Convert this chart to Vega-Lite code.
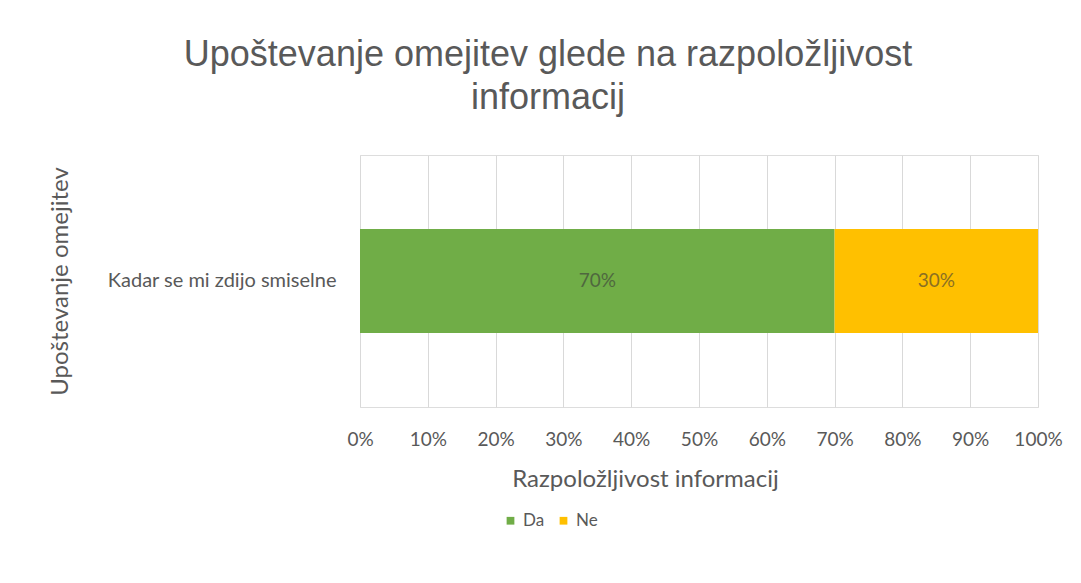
{
  "$schema": "https://vega.github.io/schema/vega-lite/v6.json",
  "width": 678,
  "height": 252,
  "autosize": {"type": "none"},
  "padding": {"left": 360, "top": 155, "right": 43, "bottom": 176},
  "background": "white",
  "title": {
    "text": ["Upoštevanje omejitev glede na razpoložljivost", "informacij"],
    "font": "Liberation Sans",
    "fontSize": 36,
    "fontWeight": "normal",
    "color": "#595959",
    "anchor": "middle",
    "frame": "group",
    "dx": -151,
    "lineHeight": 43,
    "offset": 38
  },
  "data": {
    "values": [
      {"kategorija": "Kadar se mi zdijo smiselne", "odgovor": "Da", "delez": 0.7, "red": 1},
      {"kategorija": "Kadar se mi zdijo smiselne", "odgovor": "Ne", "delez": 0.3, "red": 2}
    ]
  },
  "encoding": {
    "y": {
      "field": "kategorija",
      "type": "nominal",
      "scale": {"paddingInner": 0, "paddingOuter": 0.71},
      "axis": {
        "title": "Upoštevanje omejitev",
        "titleFont": "Lato",
        "titleFontSize": 24,
        "titleFontWeight": "normal",
        "titleColor": "#595959",
        "titleX": -300,
        "titleBaseline": "middle",
        "titleAlign": "center",
        "titleAngle": 270,
        "labelFont": "Lato",
        "labelFontSize": 20,
        "labelColor": "#595959",
        "labelPadding": 24,
        "labelLimit": 400,
        "ticks": false,
        "tickSize": 0,
        "domain": false,
        "grid": false
      }
    }
  },
  "layer": [
    {
      "mark": {"type": "bar"},
      "encoding": {
        "x": {
          "field": "delez",
          "type": "quantitative",
          "stack": "zero",
          "scale": {"domain": [0, 1], "nice": false},
          "axis": {
            "title": "Razpoložljivost informacij",
            "titleFont": "Lato",
            "titleFontSize": 24,
            "titleFontWeight": "normal",
            "titleColor": "#595959",
            "titleX": 285,
            "titleAlign": "center",
            "titlePadding": 18,
            "labelFont": "Lato",
            "labelFontSize": 19,
            "labelColor": "#595959",
            "labelPadding": 23,
            "labelFlush": false,
            "labelOverlap": false,
            "labelBound": false,
            "format": ".0%",
            "values": [0, 0.1, 0.2, 0.3, 0.4, 0.5, 0.6, 0.7, 0.8, 0.9, 1],
            "ticks": false,
            "tickSize": 0,
            "domain": false,
            "grid": true,
            "gridColor": "#D9D9D9",
            "gridWidth": 1
          }
        },
        "color": {
          "field": "odgovor",
          "type": "nominal",
          "scale": {"domain": ["Da", "Ne"], "range": ["#70AD47", "#FFC000"]},
          "legend": {
            "title": null,
            "orient": "none",
            "direction": "horizontal",
            "legendX": 142,
            "legendY": 357,
            "symbolType": "square",
            "symbolSize": 60,
            "symbolStrokeWidth": 0,
            "labelFont": "Lato",
            "labelFontSize": 17,
            "labelColor": "#595959",
            "columnPadding": 10,
            "labelOffset": 4
          }
        },
        "order": {"field": "red", "type": "quantitative"}
      }
    },
    {
      "mark": {"type": "text", "font": "Lato", "fontSize": 19, "color": "#3a3a3a", "opacity": 0.6},
      "encoding": {
        "x": {"field": "delez", "type": "quantitative", "stack": "zero", "bandPosition": 0.5},
        "order": {"field": "red", "type": "quantitative"},
        "text": {"field": "delez", "type": "quantitative", "format": ".0%"}
      }
    }
  ]
}
